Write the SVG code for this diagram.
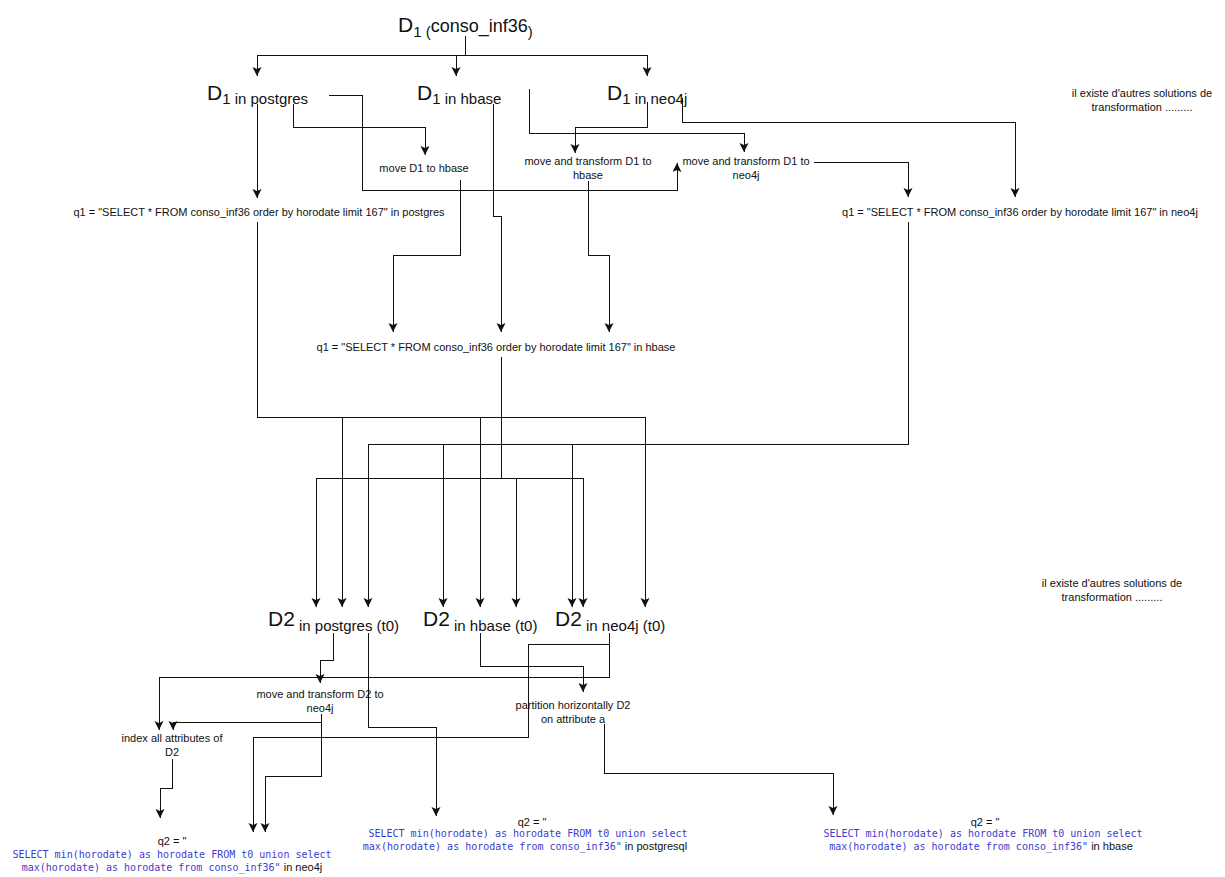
<svg xmlns="http://www.w3.org/2000/svg" width="1225" height="877" viewBox="0 0 1225 877">
<style>
text{font-family:"Liberation Sans",Arial,sans-serif;fill:#111;}
.big{font-size:21px;}
.sub{font-size:15px;}
.lbl{font-size:11px;}
.mono{font-family:"DejaVu Sans Mono","Liberation Mono",monospace;font-size:10px;fill:#3b3bd1;}
.c{text-anchor:middle;}
.e{fill:none;stroke:#111;stroke-width:1;shape-rendering:crispEdges;}
.a{marker-end:url(#arr);}
</style>
<defs>
<marker id="arr" markerUnits="userSpaceOnUse" markerWidth="10" markerHeight="10" refX="9" refY="4.5" orient="auto">
<path d="M0,0 L9,4.5 L0,9 L2,4.5 Z" fill="#111"/>
</marker>
</defs>
<rect width="1225" height="877" fill="#fff"/>

<g id="connectors">
<path class="e a" d="M465,36 V55 H257 V76"/>
<path class="e a" d="M465,36 V55 H456 V76"/>
<path class="e a" d="M465,36 V55 H647 V76"/>
<path class="e a" d="M257,104 V198"/>
<path class="e a" d="M293,104 V127 H425 V155"/>
<path class="e a" d="M329,95 H362 V190 H677 V163"/>
<path class="e a" d="M493,104 V216 H501 V332"/>
<path class="e a" d="M529,89 V133 H744 V152"/>
<path class="e a" d="M647,102 V127 H575 V153"/>
<path class="e a" d="M682,98 V122 H1015 V197"/>
<path class="e a" d="M460,180 V255 H393 V332"/>
<path class="e a" d="M588,181 V255 H609 V332"/>
<path class="e a" d="M814,162 H908 V197"/>
<path class="e a" d="M257,222 V417 H342 V607"/>
<path class="e a" d="M257,222 V417 H480 V607"/>
<path class="e a" d="M257,222 V417 H645 V607"/>
<path class="e a" d="M908,222 V444 H368 V607"/>
<path class="e a" d="M908,222 V444 H443 V607"/>
<path class="e a" d="M908,222 V444 H572 V607"/>
<path class="e a" d="M501,357 V478 H316 V607"/>
<path class="e a" d="M501,357 V478 H516 V607"/>
<path class="e a" d="M501,357 V478 H583 V607"/>
<path class="e a" d="M333,633 V660 H320 V683"/>
<path class="e a" d="M368,633 V727 H436 V816"/>
<path class="e a" d="M480,633 V666 H583 V692"/>
<path class="e a" d="M609,633 V677 H159 V730"/>
<path class="e a" d="M609,633 V644 H528 V737 H253 V832"/>
<path class="e a" d="M321,714 V722 H173 V730"/>
<path class="e a" d="M321,714 V776 H265 V832"/>
<path class="e a" d="M172,759 V788 H160 V818"/>
<path class="e a" d="M604,724 V773 H833 V815"/>
</g>

<g id="d1-root"><text x="398" y="32" class="big">D<tspan class="sub" dy="5">1 (</tspan><tspan dy="-5" font-size="18">conso_inf36</tspan><tspan class="sub" dy="5">)</tspan></text></g>
<g id="d1-postgres"><text x="207" y="100" class="big">D<tspan class="sub" dy="4">1 in postgres</tspan></text></g>
<g id="d1-hbase"><text x="417" y="100" class="big">D<tspan class="sub" dy="4">1 in hbase</tspan></text></g>
<g id="d1-neo4j"><text x="607" y="100" class="big">D<tspan class="sub" dy="4">1 in neo4j</tspan></text></g>

<g id="other-1"><text class="lbl c" x="1142" y="97">il existe d'autres solutions de</text><text class="lbl c" x="1142" y="111">transformation .........</text></g>

<g id="move-d1-hbase"><text class="lbl c" x="424" y="172">move D1 to hbase</text></g>
<g id="transform-d1-hbase"><text class="lbl c" x="588" y="165">move and transform D1 to</text><text class="lbl c" x="588" y="179">hbase</text></g>
<g id="transform-d1-neo4j"><text class="lbl c" x="746" y="165">move and transform D1 to</text><text class="lbl c" x="746" y="179">neo4j</text></g>

<g id="q1-postgres"><text class="lbl c" x="259" y="216">q1 = "SELECT * FROM conso_inf36 order by horodate limit 167" in postgres</text></g>
<g id="q1-neo4j"><text class="lbl c" x="1020" y="216">q1 = "SELECT * FROM conso_inf36 order by horodate limit 167" in neo4j</text></g>
<g id="q1-hbase"><text class="lbl c" x="496" y="351">q1 = "SELECT * FROM conso_inf36 order by horodate limit 167" in hbase</text></g>

<g id="other-2"><text class="lbl c" x="1112" y="587">il existe d'autres solutions de</text><text class="lbl c" x="1112" y="601">transformation .........</text></g>

<g id="d2-postgres"><text x="268" y="626" class="big">D2<tspan class="sub" dy="5"> in postgres (t0)</tspan></text></g>
<g id="d2-hbase"><text x="423" y="626" class="big">D2<tspan class="sub" dy="5"> in hbase (t0)</tspan></text></g>
<g id="d2-neo4j"><text x="555" y="626" class="big">D2<tspan class="sub" dy="5"> in neo4j (t0)</tspan></text></g>

<g id="transform-d2-neo4j"><text class="lbl c" x="320" y="698">move and transform D2 to</text><text class="lbl c" x="320" y="712">neo4j</text></g>
<g id="partition-d2"><text class="lbl c" x="573" y="709">partition horizontally D2</text><text class="lbl c" x="573" y="723">on attribute a</text></g>
<g id="index-d2"><text class="lbl c" x="172" y="742">index all attributes of</text><text class="lbl c" x="172" y="756">D2</text></g>

<g id="q2-neo4j"><text class="lbl c" x="172" y="845">q2 = "</text><text class="c" x="172" y="858"><tspan class="mono">SELECT min(horodate) as horodate FROM t0 union select</tspan></text><text class="c" x="172" y="871"><tspan class="mono">max(horodate) as horodate from conso_inf36"</tspan><tspan class="lbl"> in neo4j</tspan></text></g>
<g id="q2-postgres"><text class="lbl c" x="532" y="826">q2 = "</text><text class="c" x="528" y="837"><tspan class="mono">SELECT min(horodate) as horodate FROM t0 union select</tspan></text><text class="c" x="525" y="850"><tspan class="mono">max(horodate) as horodate from conso_inf36"</tspan><tspan class="lbl"> in postgresql</tspan></text></g>
<g id="q2-hbase"><text class="lbl c" x="985" y="826">q2 = "</text><text class="c" x="983" y="837"><tspan class="mono">SELECT min(horodate) as horodate FROM t0 union select</tspan></text><text class="c" x="981" y="850"><tspan class="mono">max(horodate) as horodate from conso_inf36"</tspan><tspan class="lbl"> in hbase</tspan></text></g>
</svg>
